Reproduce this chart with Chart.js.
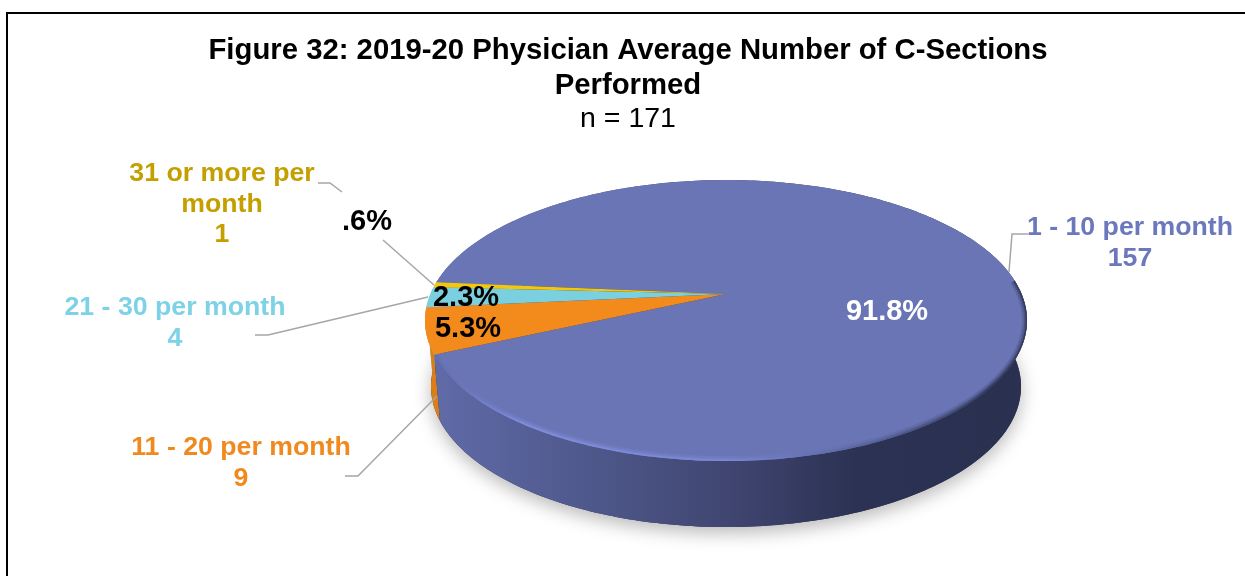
<!DOCTYPE html>
<html>
<head>
<meta charset="utf-8">
<title>Figure 32</title>
<script src="https://cdn.jsdelivr.net/npm/chart.js@4"></script>
<style>
  html, body { margin:0; padding:0; background:#fff; overflow:hidden; }
  canvas { display:block; }
  #frame { position:absolute; left:6px; top:12px; right:0; bottom:0; border-left:2px solid #000; border-top:2px solid #000; pointer-events:none; }
</style>
</head>
<body>
<canvas id="pie" width="1245" height="576"></canvas>
<div id="frame"></div>
<script>
document.addEventListener("DOMContentLoaded", function(){

const categories = ["1 - 10 per month", "11 - 20 per month", "21 - 30 per month", "31 or more per month"];
const counts = [157, 9, 4, 1];
const percentLabels = ["91.8%", "5.3%", "2.3%", ".6%"];

const topColors  = ["#6a75b5", "#f28a1c", "#7bd0e0", "#f2c70f"];
const sideColors = [null, "#dc7e16", "#6dbccb", "#d8ad0c"];
const labelColors = ["#6b78bc", "#f08a1e", "#7dd2e5", "#c49f00"];

const FONT = "'Liberation Sans', Arial, sans-serif";

// ----- perspective of the disc -----
const RX = 295.6, RY = 135.5, TILT = 0.189, DEPTH = 66, NARROW = 0.02;
const SHIFT_X = 98; // disc sits right of the title's centre

function rim(c, a, d){
  const u = Math.cos(a), v = -Math.sin(a);
  const s = 1 / (1 + TILT * v);
  return [c.x + RX * u * s * (1 - NARROW * d), c.y - RY * v * s + DEPTH * d];
}

function arcPath(ctx, c, from, to, d, move){
  const n = Math.max(2, Math.ceil(Math.abs(to - from) * 60));
  for(let i=0; i<=n; i++){
    const p = rim(c, from + (to - from) * i / n, d);
    if(i===0 && move) ctx.moveTo(p[0], p[1]); else ctx.lineTo(p[0], p[1]);
  }
}

// ----- 3D drawing from the arc elements of the pie -----
const disc3d = {
  id: "disc3d",
  beforeDatasetsDraw(chart){
    const ctx = chart.ctx;
    const arcs = chart.getDatasetMeta(0).data;
    const c = { x: arcs[0].x + SHIFT_X, y: arcs[0].y };

    // soft shadow below the body
    ctx.save();
    ctx.shadowColor = "rgba(0,0,0,0.28)";
    ctx.shadowBlur = 18;
    ctx.shadowOffsetY = 6;
    ctx.fillStyle = "#2a3050";
    ctx.beginPath();
    arcPath(ctx, c, 0, Math.PI*2, 1, true);
    ctx.closePath();
    ctx.fill();
    ctx.restore();

    // side wall, small slices first so the big one sits on top
    const bodyGrad = ctx.createLinearGradient(c.x - RX, 0, c.x + RX, 0);
    bodyGrad.addColorStop(0, "#606ba8");
    bodyGrad.addColorStop(0.3, "#4d5688");
    bodyGrad.addColorStop(0.5, "#404671");
    bodyGrad.addColorStop(0.72, "#2c3253");
    bodyGrad.addColorStop(1, "#2a3050");
    for(let i=arcs.length-1; i>=0; i--){
      const a = arcs[i];
      ctx.beginPath();
      arcPath(ctx, c, a.startAngle, a.endAngle, 0, true);
      arcPath(ctx, c, a.endAngle, a.startAngle, 1, false);
      ctx.closePath();
      ctx.fillStyle = sideColors[i] || bodyGrad;
      ctx.fill();
    }

    // top face
    arcs.forEach((a, i)=>{
      ctx.beginPath();
      ctx.moveTo(c.x, c.y);
      arcPath(ctx, c, a.startAngle, a.endAngle, 0, false);
      ctx.closePath();
      ctx.fillStyle = topColors[i];
      ctx.fill();
    });

    // bevel along the front edge of the big slice
    const big = arcs[0];
    const bevel = ctx.createLinearGradient(c.x - RX, 0, c.x + RX, 0);
    bevel.addColorStop(0, "#5f6aa8");
    bevel.addColorStop(0.16, "#8290e2");
    bevel.addColorStop(0.5, "#7c8ad8");
    bevel.addColorStop(0.72, "#5a659d");
    bevel.addColorStop(0.95, "#2f3657");
    ctx.save();
    ctx.beginPath();
    ctx.moveTo(c.x, c.y);
    arcPath(ctx, c, big.startAngle, big.endAngle, 0, false);
    ctx.closePath();
    ctx.clip();
    ctx.strokeStyle = bevel;
    ctx.lineJoin = "round";
    [[10, 0.25], [6, 0.4], [3, 0.8]].forEach(([w, alpha])=>{
      ctx.globalAlpha = alpha;
      ctx.lineWidth = w;
      ctx.beginPath();
      arcPath(ctx, c, -0.1, big.endAngle - Math.PI*2, 0, true);
      ctx.stroke();
    });
    ctx.restore();

    return false; // the default flat arcs are replaced by the above
  },
  afterDraw(chart){
    const ctx = chart.ctx;
    ctx.save();

    // leader lines
    ctx.strokeStyle = "#a6a6a6";
    ctx.lineWidth = 1.5;
    [
      [[318,183],[330,183],[342,192]],
      [[383,240],[434,285]],
      [[255,335],[268,335],[428,297]],
      [[345,476],[358,476],[437,396]],
      [[1028,234],[1012,234],[1009,272]]
    ].forEach(line=>{
      ctx.beginPath();
      line.forEach((p, i)=> i ? ctx.lineTo(p[0], p[1]) : ctx.moveTo(p[0], p[1]));
      ctx.stroke();
    });

    // labels
    ctx.textAlign = "center";
    ctx.textBaseline = "middle";
    ctx.font = "bold 26.7px " + FONT;
    const put = (txt, x, y, col)=>{ ctx.fillStyle = col; ctx.fillText(txt, x, y); };
    put(categories[0], 1130, 228, labelColors[0]);
    put(String(counts[0]), 1130, 259, labelColors[0]);
    put(categories[1], 241, 448, labelColors[1]);
    put(String(counts[1]), 241, 479, labelColors[1]);
    put(categories[2], 175, 308, labelColors[2]);
    put(String(counts[2]), 175, 339, labelColors[2]);
    put("31 or more per", 222, 174, labelColors[3]);
    put("month", 222, 205, labelColors[3]);
    put(String(counts[3]), 222, 235, labelColors[3]);

    ctx.font = "bold 29px " + FONT;
    put(percentLabels[0], 887, 312, "#fff");
    put(percentLabels[1], 468, 329, "#000");
    put(percentLabels[2], 466, 298, "#000");
    put(percentLabels[3], 367, 222, "#000");
    ctx.restore();
  }
};

new Chart(document.getElementById("pie"), {
  type: "pie",
  data: { labels: categories, datasets: [{ data: counts, backgroundColor: topColors, borderWidth: 0 }] },
  options: {
    responsive: false,
    animation: false,
    rotation: 275,
    layout: { padding: { top: 33, bottom: 132.75, left: 11, right: 0 } },
    plugins: {
      legend: { display: false },
      tooltip: { enabled: false },
      title: {
        display: true,
        text: ["Figure 32: 2019-20 Physician Average Number of C-Sections", "Performed"],
        color: "#000",
        font: { family: FONT, size: 29.3, weight: "bold", lineHeight: 1.2 },
        padding: { top: 0, bottom: 0 }
      },
      subtitle: {
        display: true,
        text: "n = 171",
        color: "#000",
        font: { family: FONT, size: 28.5, weight: "normal", lineHeight: 1.1 },
        padding: { top: 0, bottom: 10 }
      }
    }
  },
  plugins: [disc3d]
});

});
</script>
</body>
</html>
